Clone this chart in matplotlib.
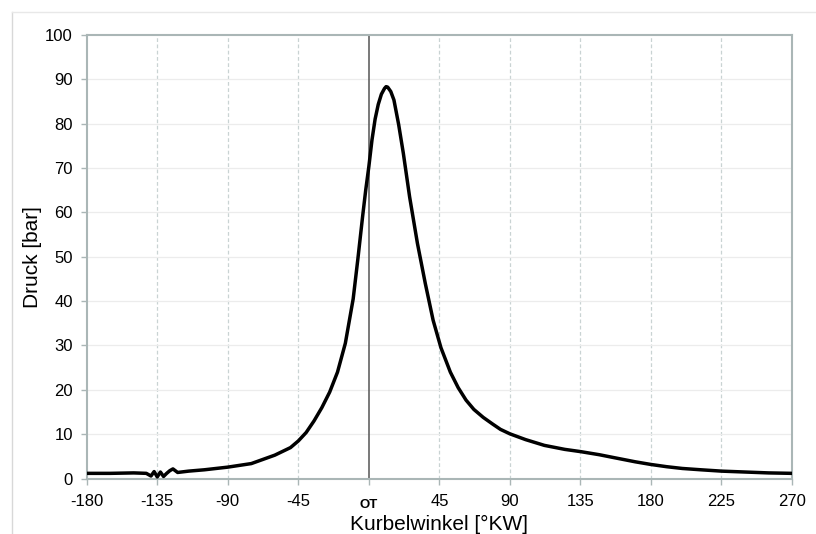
import numpy as np
import matplotlib.pyplot as plt
from matplotlib.lines import Line2D

plt.rcParams['font.family'] = ['Liberation Sans', 'DejaVu Sans']

# Kurbelwinkel [°KW] und Druck [bar]
winkel = [-180, -165, -150, -142, -139, -137, -135, -133, -131, -129, -127, -125, -122,
          -115, -105, -90, -75, -60, -50, -45, -40, -35, -30, -25, -20, -15, -10,
          -7, -4, -2, 0, 2, 4, 6, 8, 10, 11, 12, 14, 16, 19, 22, 26, 31, 36, 41, 46, 52,
          57, 62, 67, 73, 79, 84, 90, 100, 112, 125, 135, 147, 157, 170, 180, 190, 200,
          212, 225, 240, 255, 270]
druck = [1.2, 1.2, 1.3, 1.2, 0.6, 1.6, 0.4, 1.5, 0.5, 1.2, 1.8, 2.2, 1.4,
         1.7, 2.0, 2.6, 3.4, 5.3, 7.0, 8.5, 10.4, 13.0, 16.0, 19.5, 24.0, 30.5, 40.5,
         49.5, 59.0, 65.0, 70.3, 76.3, 81.0, 84.3, 86.6, 87.9, 88.3, 88.2, 87.2, 85.3, 79.8, 73.3, 63.5, 53.0, 44.0, 35.7, 29.5, 24.0,
         20.5, 17.7, 15.6, 13.8, 12.3, 11.1, 10.1, 8.8, 7.5, 6.6, 6.1, 5.4, 4.7, 3.8, 3.2, 2.7, 2.3,
         2.0, 1.7, 1.5, 1.3, 1.2]

x_ticks = [-180, -135, -90, -45, 0, 45, 90, 135, 180, 225, 270]
x_labels = ['-180', '-135', '-90', '-45', '', '45', '90', '135', '180', '225', '270']
y_ticks = list(range(0, 101, 10))


def plot_druckverlauf():
    fig = plt.figure(figsize=(8.16, 5.34), dpi=100)
    ax = fig.add_axes([0.1063, 0.1036, 0.9706 - 0.1063, 0.935 - 0.1036])

    # feiner Rahmen um das Bild (links und oben)
    fig.add_artist(Line2D([12 / 816, 12 / 816], [0, 1 - 12 / 534], color='#d8d8d8', lw=1))
    fig.add_artist(Line2D([12 / 816, 1], [1 - 12 / 534, 1 - 12 / 534], color='#e8e8e8', lw=1))

    ax.set_xlim(-180, 270)
    ax.set_ylim(0, 100)
    ax.set_xticks(x_ticks)
    ax.set_xticklabels(x_labels)
    ax.set_yticks(y_ticks)

    # Gitter
    for xt in x_ticks[1:-1]:
        if xt != 0:
            ax.axvline(xt, color='#c9d3d3', lw=0.9, ls=(0, (3, 2)), zorder=0)
    for yt in y_ticks[1:-1]:
        ax.axhline(yt, color='#ececec', lw=0.9, zorder=0)
    ax.axvline(0, color='#555555', lw=1.1, zorder=1)

    ax.plot(winkel, druck, color='black', lw=2.5, zorder=3,
            solid_joinstyle='round', solid_capstyle='round')

    for s in ax.spines.values():
        s.set_color('#aab6b6')
        s.set_linewidth(1.5)
    ax.tick_params(axis='both', direction='out', length=4, width=1, color='#aab6b6',
                   labelsize=12)
    ax.tick_params(axis='y', pad=6)
    ax.tick_params(axis='x', pad=7)

    ax.annotate('OT', xy=(0, 0), xycoords=('data', 'axes fraction'), xytext=(0, -21),
                textcoords='offset points', ha='center', va='baseline',
                fontsize=9.5, fontweight='bold')

    ax.set_xlabel('Kurbelwinkel [°KW]', fontsize=15, va='top')
    ax.xaxis.set_label_coords(0.5, -0.081)
    ax.set_ylabel('Druck [bar]', fontsize=15)
    ax.yaxis.set_label_coords(-0.064, 0.5)

    fig.savefig('out.png', dpi=100)


plot_druckverlauf()
